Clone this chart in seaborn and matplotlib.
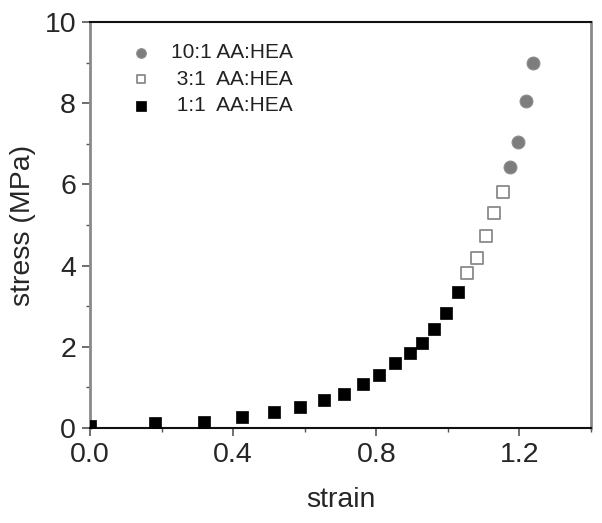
import numpy as np
import pandas as pd
import matplotlib
matplotlib.use("Agg")
import matplotlib.pyplot as plt
from matplotlib.ticker import MultipleLocator
import seaborn as sns

# data
strain_1to1 = [0.0, 0.182, 0.319, 0.426, 0.513, 0.587, 0.654, 0.710, 0.763, 0.809,
               0.851, 0.894, 0.928, 0.962, 0.996, 1.027]
stress_1to1 = [0.05, 0.12, 0.16, 0.28, 0.39, 0.52, 0.68, 0.85, 1.08, 1.31,
               1.59, 1.84, 2.10, 2.43, 2.84, 3.36]
strain_3to1 = [1.054, 1.082, 1.106, 1.130, 1.153]
stress_3to1 = [3.81, 4.18, 4.73, 5.29, 5.82]
strain_10to1 = [1.175, 1.196, 1.218, 1.237]
stress_10to1 = [6.44, 7.04, 8.05, 8.98]

labels = ["10:1 AA:HEA", " 3:1  AA:HEA", " 1:1  AA:HEA"]

df10 = pd.DataFrame({"strain": strain_10to1, "stress": stress_10to1})
df3 = pd.DataFrame({"strain": strain_3to1, "stress": stress_3to1})
df1 = pd.DataFrame({"strain": strain_1to1, "stress": stress_1to1})

sns.set_style("ticks")
plt.rcParams["font.family"] = ["Liberation Sans", "DejaVu Sans"]

fig = plt.figure(figsize=(6.02, 5.23), dpi=100)
ax = fig.add_axes([0.1495, 0.1816, 0.8322, 0.7764])

sns.scatterplot(data=df10, x="strain", y="stress", ax=ax, marker="o", s=85,
                color="#7d7d7d", edgecolor="#8c8c8c", linewidth=0.8, label=labels[0], zorder=3)
sns.scatterplot(data=df3, x="strain", y="stress", ax=ax, marker="s", s=70,
                facecolor="white", edgecolor="#8a8a8a", linewidth=1.3, label=labels[1], zorder=3)
sns.scatterplot(data=df1, x="strain", y="stress", ax=ax, marker="s", s=80,
                color="black", edgecolor="black", linewidth=0.5, label=labels[2], zorder=3)

ax.set_xlim(0, 1.4)
ax.set_ylim(0, 10)
ax.xaxis.set_minor_locator(MultipleLocator(0.2))
ax.yaxis.set_major_locator(MultipleLocator(2))
ax.yaxis.set_minor_locator(MultipleLocator(1))
ax.set_xticks([0.0, 0.4, 0.8, 1.2])
ax.set_xticklabels(["0.0", "0.4", "0.8", "1.2"])

ax.tick_params(axis="both", which="major", direction="out", length=6, width=1.2,
               color="#555555", labelsize=20.5, pad=4)
ax.tick_params(axis="both", which="minor", direction="out", length=3, width=1.0,
               color="#555555")
ax.set_xlabel("strain", fontsize=20.5, labelpad=14)
ax.set_ylabel("stress (MPa)", fontsize=20.5, labelpad=6)

for side in ["top", "bottom"]:
    ax.spines[side].set_color("#111111")
    ax.spines[side].set_linewidth(1.5)
for side in ["left", "right"]:
    ax.spines[side].set_color("#8a8a8a")
    ax.spines[side].set_linewidth(2.0)

ax.legend(loc="upper left", bbox_to_anchor=(0.035, 0.978), frameon=False, fontsize=15,
          markerscale=0.75, handletextpad=0.45, labelspacing=0.35, borderaxespad=0.2,
          labelcolor="#222222")

fig.savefig("out.png", dpi=100)
